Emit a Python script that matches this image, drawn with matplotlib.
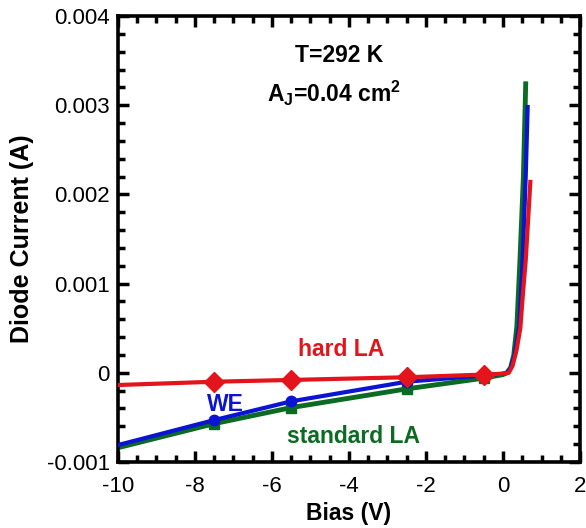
import matplotlib
matplotlib.use("Agg")
import matplotlib.pyplot as plt
from matplotlib.ticker import MultipleLocator, FixedLocator, FixedFormatter

plt.rcParams['font.family'] = ['Liberation Sans', 'DejaVu Sans']
plt.rcParams['axes.unicode_minus'] = False
plt.rcParams['mathtext.fontset'] = 'custom'
plt.rcParams['mathtext.rm'] = 'Liberation Sans'
plt.rcParams['mathtext.bf'] = 'Liberation Sans:bold'

# I-V sweeps (bias in V, current in A)
hard_v = [-10.0, -7.5, -5.5, -2.5, -0.5, 0.0, 0.15, 0.25, 0.35, 0.45, 0.52, 0.59, 0.65, 0.71]
hard_i = [-0.000137, -0.0001, -0.00008, -0.00005, -0.00002, -0.00001, 0.0, 0.00008, 0.00025, 0.0005, 0.0009, 0.00126, 0.0017, 0.00214]

we_v = [-10.0, -7.5, -5.5, -2.5, -0.5, 0.0, 0.1, 0.2, 0.3, 0.42, 0.51, 0.59, 0.64]
we_i = [-0.00081, -0.00053, -0.00032, -0.0001, -0.00003, -0.00001, 0.0, 0.00005, 0.0002, 0.00052, 0.00126, 0.0022, 0.00298]

std_v = [-10.0, -7.5, -5.5, -2.5, -0.5, 0.0, 0.1, 0.2, 0.28, 0.36, 0.44, 0.53, 0.59]
std_i = [-0.00084, -0.00057, -0.00039, -0.00018, -0.00006, -0.00002, 0.0, 0.00006, 0.0002, 0.00052, 0.00126, 0.0022, 0.00324]

# symbols are placed at these bias points only
marker_v = [-7.5, -5.5, -2.5, -0.5]

RED = '#e3141b'
BLUE = '#0a14d2'
GREEN = '#0c6b22'

fig = plt.figure(figsize=(5.86, 5.28), dpi=100)
ax = fig.add_axes([118/586, 1 - 462/528, (580-118)/586, (462-16)/528])

def marks(v, i):
    idx = [v.index(m) for m in marker_v]
    return [v[k] for k in idx], [i[k] for k in idx]

ax.plot(std_v, std_i, color=GREEN, lw=3.5, zorder=2)
ax.plot(we_v, we_i, color=BLUE, lw=3.0, zorder=3)
ax.plot(hard_v, hard_i, color=RED, lw=3.0, zorder=4)

mv, mi = marks(std_v, std_i)
ax.plot(mv, mi, 's', color=GREEN, ms=7.5, zorder=2)
mv, mi = marks(we_v, we_i)
ax.plot(mv, mi, 'o', color=BLUE, ms=7.5, zorder=3)
mv, mi = marks(hard_v, hard_i)
ax.plot(mv, mi, 'D', color=RED, ms=10.5, zorder=4)

ax.set_xlim(-10, 2)
ax.set_ylim(-0.001, 0.004)

ax.xaxis.set_major_locator(MultipleLocator(2))
ax.xaxis.set_minor_locator(MultipleLocator(0.5))
yt = [-0.001, 0.0, 0.001, 0.002, 0.003, 0.004]
ax.yaxis.set_major_locator(FixedLocator(yt))
ax.yaxis.set_major_formatter(FixedFormatter(['-0.001', '0', '0.001', '0.002', '0.003', '0.004']))
ax.yaxis.set_minor_locator(MultipleLocator(0.0002))

ax.tick_params(which='both', direction='in', top=True, right=True, width=2.5, labelsize=16)
ax.tick_params(which='major', length=8)
ax.tick_params(which='minor', length=5)
ax.tick_params(axis='x', pad=10)
ax.tick_params(axis='y', pad=6)
for s in ax.spines.values():
    s.set_linewidth(2.6)

ax.set_xlabel('Bias (V)', fontsize=16.5, fontweight='bold', labelpad=3.5)
ax.set_ylabel('Diode Current (A)', fontsize=18, fontweight='bold', labelpad=9)

ax.text(-4.26, 0.003484, 'T=292 K', fontsize=16.5, fontweight='bold', ha='center', va='baseline')
ax.text(-4.39, 0.003036, r'A$_\mathbf{J}$=0.04 cm$^\mathbf{2}$', fontsize=16.5, fontweight='bold', ha='center', va='baseline')
ax.text(-4.21, 0.000188, 'hard LA', fontsize=16.5, fontweight='bold', color=RED, ha='center', va='baseline')
ax.text(-7.22, -0.000425, 'WE', fontsize=16.5, fontweight='bold', color=BLUE, ha='center', va='baseline')
ax.text(-3.88, -0.00079, 'standard LA', fontsize=16.5, fontweight='bold', color=GREEN, ha='center', va='baseline')

fig.savefig('out.png', dpi=100)
